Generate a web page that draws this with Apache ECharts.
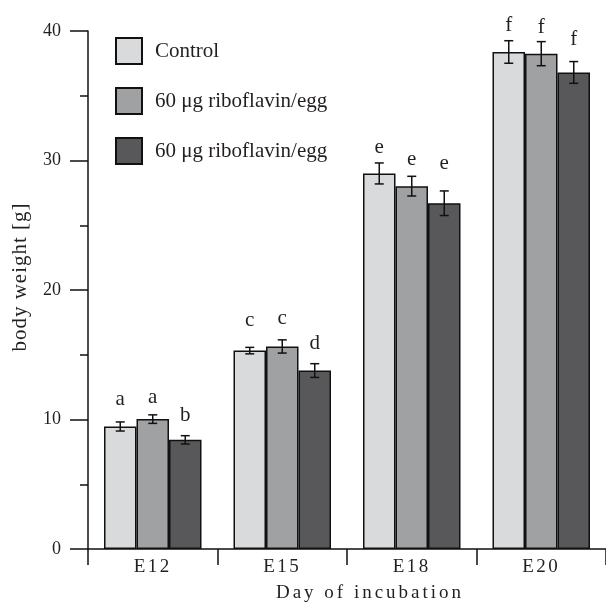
<!DOCTYPE html>
<html>
<head>
<meta charset="utf-8">
<script src="https://cdn.jsdelivr.net/npm/echarts@6/dist/echarts.min.js"></script>
<style>
html,body{margin:0;padding:0;background:#fff;}
#chart{width:606px;height:604px;}
</style>
</head>
<body>
<div id="chart"></div>
<script>
// ---- data ----
const categories = ['E12', 'E15', 'E18', 'E20'];
const seriesKeys = ['ctrl', 'rib1', 'rib2'];
const legendLabels = ['Control', '60 μg riboflavin/egg', '60 μg riboflavin/egg'];
const controlValues = [9.46, 15.32, 29.0, 38.38];
const rib1Values = [10.03, 15.64, 28.02, 38.25];
const rib2Values = [8.43, 13.78, 26.7, 36.8];
const controlErr = [0.35, 0.25, 0.81, 0.87];
const rib1Err = [0.33, 0.51, 0.76, 0.93];
const rib2Err = [0.32, 0.53, 0.95, 0.84];
const controlLetters = ['a', 'c', 'e', 'f'];
const rib1Letters = ['a', 'c', 'e', 'f'];
const rib2Letters = ['b', 'd', 'e', 'f'];
const controlLetterY = [11.06, 17.2, 30.56, 39.95];
const rib1LetterY = [11.21, 17.31, 29.58, 39.81];
const rib2LetterY = [9.85, 15.38, 29.27, 38.91];
const yTicks = [0, 10, 20, 30, 40];

// ---- letter spacing for some texts (canvas letterSpacing) ----
const LS = {'E12': '2.5px', 'E15': '2.5px', 'E18': '2.5px', 'E20': '2.5px',
            'Day of incubation': '3px', 'body weight [g]': '1px'};
const origFill = CanvasRenderingContext2D.prototype.fillText;
CanvasRenderingContext2D.prototype.fillText = function (t, x, y, w) {
  const ls = LS[t];
  if (ls && 'letterSpacing' in this) {
    this.save();
    this.letterSpacing = ls;
    if (w === undefined) { origFill.call(this, t, x, y); } else { origFill.call(this, t, x, y, w); }
    this.restore();
    return;
  }
  if (w === undefined) { return origFill.call(this, t, x, y); }
  return origFill.call(this, t, x, y, w);
};

const FONT = '"Liberation Serif", "Times New Roman", serif';
const TXT = '#231f20';
const colors = ['#d9dadc', '#a0a1a3', '#58585a'];
const BAR_W = 32.5;

const values = [controlValues, rib1Values, rib2Values];
const errs = [controlErr, rib1Err, rib2Err];
const letters = [controlLetters, rib1Letters, rib2Letters];
const letterY = [controlLetterY, rib1LetterY, rib2LetterY];

function makeRender(k) {
  return function (params, api) {
    const i = api.value(0);
    const v = api.value(1);
    const e = api.value(2);
    const c = api.coord([i, v]);
    const x = c[0] + (k - 1) * BAR_W;
    const hi = api.coord([i, v + e])[1];
    const lo = api.coord([i, v - e])[1];
    const ly = api.coord([i, api.value(3)])[1];
    const st = {stroke: '#111', lineWidth: 1.5};
    const cw = 4.5;
    return {
      type: 'group',
      children: [
        {type: 'line', shape: {x1: x, y1: hi, x2: x, y2: lo}, style: st},
        {type: 'line', shape: {x1: x - cw, y1: hi, x2: x + cw, y2: hi}, style: st},
        {type: 'line', shape: {x1: x - cw, y1: lo, x2: x + cw, y2: lo}, style: st},
        {type: 'text', style: {text: letters[k][params.dataIndex], x: x, y: ly + 4.5,
          align: 'center', verticalAlign: 'bottom', fill: TXT,
          font: '21px ' + FONT}}
      ]
    };
  };
}

const series = [];
seriesKeys.forEach(function (key, k) {
  series.push({
    name: key,
    type: 'bar',
    barWidth: BAR_W,
    barGap: '0%',
    data: values[k],
    itemStyle: {color: colors[k], borderColor: '#111', borderWidth: 1.5},
    z: 2
  });
});
seriesKeys.forEach(function (key, k) {
  series.push({
    name: key + '_err',
    type: 'custom',
    renderItem: makeRender(k),
    clip: false,
    z: 5,
    data: categories.map(function (c, i) { return [i, values[k][i], errs[k][i], letterY[k][i]]; })
  });
});

const chart = echarts.init(document.getElementById('chart'), null, {renderer: 'canvas'});
chart.setOption({
  animation: false,
  backgroundColor: '#fff',
  grid: {left: 88, top: 31, width: 520, height: 518, containLabel: false},
  legend: {
    data: seriesKeys,
    orient: 'vertical',
    left: 110,
    top: 32,
    itemWidth: 26,
    itemHeight: 26,
    itemGap: 22,
    icon: 'rect',
    selectedMode: false,
    formatter: function (name) { return legendLabels[seriesKeys.indexOf(name)]; },
    textStyle: {fontSize: 21, fontFamily: FONT, color: TXT, padding: [0, 0, 0, 8]}
  },
  xAxis: {
    type: 'category',
    data: categories,
    axisLine: {show: true, lineStyle: {color: '#111', width: 1.5}},
    axisTick: {show: true, length: 16, lineStyle: {color: '#111', width: 1.5}},
    axisLabel: {fontSize: 19, fontFamily: FONT, color: TXT, margin: 9},
    splitLine: {show: false}
  },
  yAxis: {
    type: 'value',
    min: 0,
    max: 40,
    interval: 10,
    axisLine: {show: true, lineStyle: {color: '#111', width: 1.5}},
    axisTick: {show: true, length: 18, lineStyle: {color: '#111', width: 1.5}},
    minorTick: {show: true, splitNumber: 2, length: 8, lineStyle: {color: '#111', width: 1.5}},
    axisLabel: {fontSize: 18, fontFamily: FONT, color: TXT, margin: 27,
      formatter: function (v) { return yTicks.indexOf(v) >= 0 ? String(v) : ''; }},
    splitLine: {show: false},
    minorSplitLine: {show: false}
  },
  graphic: [
    {type: 'text', x: 370, y: 593,
      style: {text: 'Day of incubation', align: 'center', verticalAlign: 'middle',
        font: '19px ' + FONT, fill: TXT}},
    {type: 'text', x: 20.5, y: 277, rotation: Math.PI / 2,
      style: {text: 'body weight [g]', align: 'center', verticalAlign: 'middle',
        font: '21px ' + FONT, fill: TXT}}
  ],
  series: series
});
</script>
</body>
</html>
